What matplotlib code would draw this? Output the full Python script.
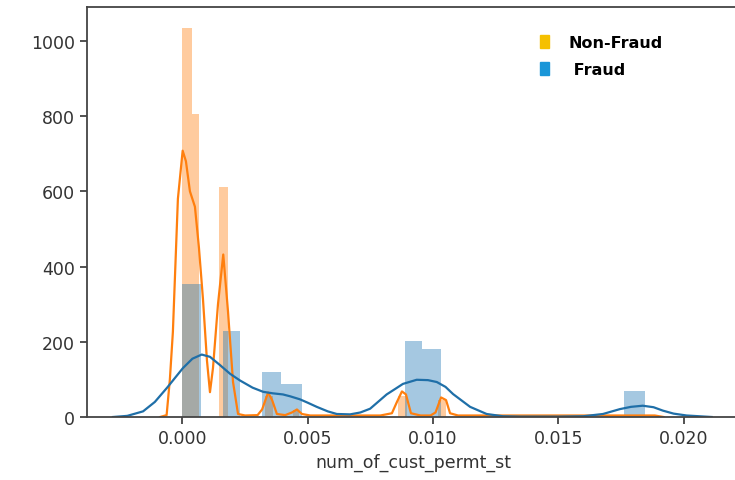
import matplotlib
matplotlib.use("Agg")
import matplotlib.pyplot as plt
from matplotlib.patches import Patch
import numpy as np

# histogram bars (density): left edge, right edge, height
nonfraud_left = [0.00000, 0.00039, 0.00146, 0.00330, 0.00440, 0.00860, 0.01020]
nonfraud_right = [0.00039, 0.00068, 0.00183, 0.00360, 0.00465, 0.00895, 0.01050]
nonfraud_height = [1034, 806, 612, 55, 18, 55, 45]

fraud_left = [0.00000, 0.00161, 0.00316, 0.00393, 0.00888, 0.00955, 0.01762]
fraud_right = [0.00075, 0.00230, 0.00393, 0.00476, 0.00955, 0.01030, 0.01846]
fraud_height = [354, 229, 120, 88, 203, 181, 70]

# kde curves
nonfraud_kde_x = [-0.00089, -0.00063, -0.00050, -0.00038, -0.00018, 0.00001, 0.00014,
                  0.00030, 0.00050, 0.00066, 0.00082, 0.00098, 0.00110, 0.00122,
                  0.00142, 0.00163, 0.00182, 0.00202, 0.00222, 0.00250, 0.00300,
                  0.00318, 0.00342, 0.00358, 0.00377, 0.00410, 0.00437, 0.00457,
                  0.00477, 0.00510, 0.00790, 0.00836, 0.00856, 0.00876, 0.00892,
                  0.00912, 0.00950, 0.00990, 0.01010, 0.01032, 0.01052, 0.01068,
                  0.01100, 0.01500, 0.01885, 0.01920]
nonfraud_kde_y = [0, 5, 100, 226, 580, 708, 680,
                  600, 559, 450, 314, 150, 66, 130,
                  300, 432, 280, 93, 8, 4, 5,
                  20, 65, 45, 8, 5, 12, 20,
                  8, 4, 4, 10, 40, 68, 60,
                  10, 4, 4, 12, 52, 45, 10,
                  4, 4, 4, 0]

fraud_kde_x = [-0.00277, -0.00220, -0.00157, -0.00110, -0.00061, 0.00002, 0.00040,
               0.00077, 0.00110, 0.00150, 0.00190, 0.00230, 0.00280, 0.00322,
               0.00360, 0.00401, 0.00430, 0.00469, 0.00500, 0.00536, 0.00580,
               0.00616, 0.00669, 0.00710, 0.00749, 0.00789, 0.00815, 0.00850,
               0.00880, 0.00935, 0.00980, 0.01015, 0.01050, 0.01080, 0.01148,
               0.01214, 0.01279, 0.01350, 0.01500, 0.01600, 0.01678, 0.01746,
               0.01790, 0.01837, 0.01880, 0.01917, 0.01960, 0.02012, 0.02112]
fraud_kde_y = [0, 3, 15, 40, 78, 130, 155,
               166, 160, 138, 115, 97, 78, 67,
               63, 60, 55, 47, 38, 27, 15,
               8, 7, 12, 22, 45, 60, 75,
               88, 99, 98, 93, 80, 61, 27,
               8, 2, 1, 1, 2, 8, 21,
               27, 30, 26, 17, 9, 4, 0]

xticks = [0.000, 0.005, 0.010, 0.015, 0.020]
yticks = [0, 200, 400, 600, 800, 1000]

fig = plt.figure(figsize=(7.35, 4.81), dpi=100)
ax = fig.add_axes([87 / 735, 63 / 481, 652 / 735, 410 / 481])

nf_l = np.array(nonfraud_left)
nf_r = np.array(nonfraud_right)
f_l = np.array(fraud_left)
f_r = np.array(fraud_right)

ax.bar(nf_l, nonfraud_height, width=nf_r - nf_l, align="edge", color="#ff7f0e", alpha=0.4, linewidth=0)
ax.plot(nonfraud_kde_x, nonfraud_kde_y, color="#ff7f0e", linewidth=1.6)
ax.bar(f_l, fraud_height, width=f_r - f_l, align="edge", color="#1f77b4", alpha=0.4, linewidth=0)
ax.plot(fraud_kde_x, fraud_kde_y, color="#1f6fa8", linewidth=1.6)

ax.set_xlim(-0.003807, 0.02221)
ax.set_ylim(0, 1090)
ax.set_xticks(xticks)
ax.set_xticklabels(["{:.3f}".format(t) for t in xticks])
ax.set_yticks(yticks)
ax.tick_params(labelsize=12.5, colors="#333333", length=5, width=1.2)
for s in ax.spines.values():
    s.set_color("#444444")
    s.set_linewidth(1.3)
ax.set_xlabel("num_of_cust_permt_st", fontsize=12.5, color="#333333", labelpad=4)

handles = [Patch(color="#f5c000", label="Non-Fraud"), Patch(color="#1a96d8", label=" Fraud")]
leg = ax.legend(handles=handles, loc="upper left", bbox_to_anchor=(0.672, 0.967), frameon=False,
                handlelength=0.6, handleheight=0.9, handletextpad=1.2, labelspacing=0.75,
                prop={"weight": "bold", "size": 11.5})

plt.savefig("out.png", dpi=100)
